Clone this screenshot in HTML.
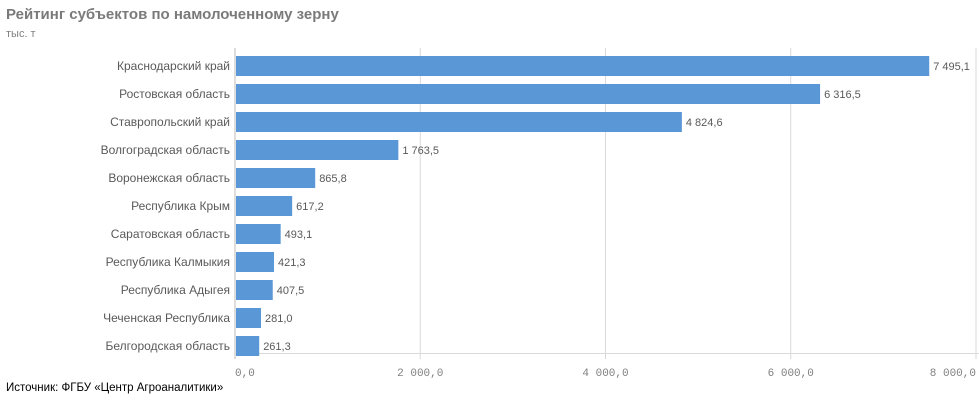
<!DOCTYPE html>
<html><head><meta charset="utf-8"><style>
body{margin:0;background:#fff;width:979px;height:400px;overflow:hidden;font-family:"Liberation Sans","DejaVu Sans",sans-serif}
</style></head><body>
<svg width="979" height="400" xmlns="http://www.w3.org/2000/svg">
<text x="6" y="19" font-size="15" font-weight="bold" fill="#7a7a7a">Рейтинг субъектов по намолоченному зерну</text>
<text x="6" y="37" font-size="11" fill="#808080">тыс. т</text>
<g id="grid"></g><g id="bars"></g><g id="ticks"></g>
<text x="6" y="391" font-size="11.5" fill="#000">Источник: ФГБУ «Центр Агроаналитики»</text>
</svg>
<script>
const categories=["Краснодарский край","Ростовская область","Ставропольский край","Волгоградская область","Воронежская область","Республика Крым","Саратовская область","Республика Калмыкия","Республика Адыгея","Чеченская Республика","Белгородская область"];
const values=[7495.1,6316.5,4824.6,1763.5,865.8,617.2,493.1,421.3,407.5,281.0,261.3];
const tickValues=[0,2000,4000,6000,8000];
const tickLabels=["0,0","2 000,0","4 000,0","6 000,0","8 000,0"];
const NS="http://www.w3.org/2000/svg";
const x0=235,x1=976,xmax=8000,y0=52,rowH=28;
const xs=v=>x0+(x1-x0)*v/xmax;
const yc=i=>y0+rowH*i+14;
function mk(t,a,p){const e=document.createElementNS(NS,t);for(const k in a)e.setAttribute(k,a[k]);p.appendChild(e);return e;}
const fmt=v=>{let s=v.toFixed(1).replace('.',',');let [a,b]=s.split(',');a=a.replace(/\B(?=(\d{3})+(?!\d))/g,' ');return a+','+b;};
const g=document.getElementById('grid'),b=document.getElementById('bars'),t=document.getElementById('ticks');
tickValues.forEach((v,i)=>{
 const l=mk('line',{x1:xs(v),x2:xs(v),y1:48,y2:359,stroke:i==0?'#bbb':'#d9d9d9','stroke-width':1},g);
 
 
 const tx=mk('text',{x:i==0?xs(v):(i==tickValues.length-1?xs(v):xs(v)),y:376,'font-size':11,fill:'#808080','font-family':'Liberation Mono, monospace','text-anchor':i==0?'start':(i==tickValues.length-1?'end':'middle')},t);
 tx.textContent=tickLabels[i];
 
 
});
const ax=mk('line',{x1:x0,x2:979,y1:353.5,y2:353.5,stroke:'#d9d9d9'},g);


categories.forEach((c,i)=>{
 const y=yc(i);
 const r=mk('rect',{x:x0+1,y:y-10,width:xs(values[i])-x0-1,height:20,fill:'#5a97d6'},b);
 
 
 const lb=mk('text',{x:x0-5,y:y+4,'font-size':12,fill:'#595959','text-anchor':'end'},b);
 lb.textContent=c;
 
 
 const vl=mk('text',{x:xs(values[i])+4,y:y+4,'font-size':11,fill:'#595959'},b);
 vl.textContent=fmt(values[i]);
 
 
});
</script>
</body></html>
